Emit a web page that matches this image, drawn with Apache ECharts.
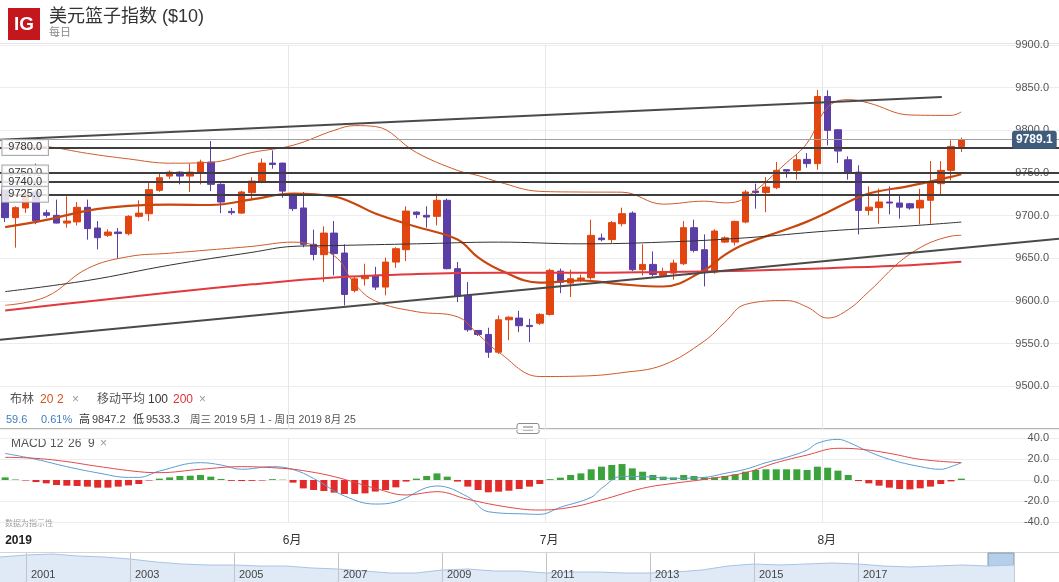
<!DOCTYPE html>
<html><head><meta charset="utf-8">
<script src="https://cdn.jsdelivr.net/npm/echarts@6/dist/echarts.min.js"></script>
<style>html,body{margin:0;padding:0;background:#fff}#c{width:1059px;height:582px}</style>
</head><body><div id="c"></div>
<script>
// ---------- categories (trading days, Sun-Fri) ----------
const dates = ['04-30',
'05-01','05-02','05-03','05-05','05-06','05-07','05-08','05-09','05-10','05-12','05-13','05-14','05-15','05-16','05-17','05-19','05-20','05-21','05-22','05-23','05-24','05-26','05-27','05-28','05-29','05-30','05-31',
'06-02','06-03','06-04','06-05','06-06','06-07','06-09','06-10','06-11','06-12','06-13','06-14','06-16','06-17','06-18','06-19','06-20','06-21','06-23','06-24','06-25','06-26','06-27','06-28','06-30',
'07-01','07-02','07-03','07-04','07-05','07-07','07-08','07-09','07-10','07-11','07-12','07-14','07-15','07-16','07-17','07-18','07-19','07-21','07-22','07-23','07-24','07-25','07-26','07-28','07-29','07-30','07-31',
'08-01','08-02','08-04','08-05','08-06','08-07','08-08','08-09','08-11','08-12','08-13','08-14','08-15','08-16',
'08-18','08-19','08-20','08-21','08-22','08-23','08-25','08-26','08-27'];
const monthNames = {'06':'6月','07':'7月','08':'8月'};

// ---------- candles: [open, close, low, high] ----------
const candles = [
[9729.7,9697.7,9692.5,9735],[9697.7,9709.4,9662.5,9711],[9709,9722,9703,9728],[9728,9694,9690,9761],
[9703.4,9700.4,9697.6,9707],[9700.4,9691.3,9691,9718.8],[9691.3,9693.7,9686,9722.6],[9692.7,9709.8,9688.6,9716],
[9709.8,9684.8,9671.9,9718.8],[9685.5,9674.2,9660.5,9693.7],[9677,9680.8,9675,9684],[9680.8,9679,9649.6,9685.5],
[9678.9,9699.2,9677,9700.5],[9699.2,9703,9697.7,9718],[9702.3,9730.5,9693.7,9738.2],[9729.7,9744.5,9728,9751],
[9746.4,9751,9743,9753],[9751,9746.4,9736.7,9752],[9746.4,9751,9727.7,9761],[9749.9,9762.8,9736.7,9765.6],
[9762.8,9736.7,9728.8,9787.5],[9736.7,9716,9703,9738],[9705,9703.5,9701,9709],[9703,9727.7,9702,9729],
[9727,9740.5,9718,9745],[9740,9761.6,9738,9766.8],[9761.6,9760,9755,9776.5],[9761.6,9728.8,9721,9762],
[9725,9708.2,9705.4,9726],[9709,9666.4,9663,9727.7],[9666.4,9654.6,9647.6,9683.6],[9654.3,9679.6,9622.2,9687.5],
[9679.6,9655.5,9630,9693.7],[9656.2,9607.7,9594.8,9666.4],[9612.4,9626,9610,9628],[9626.1,9630,9618,9643.7],
[9630,9616.3,9613,9640],[9616.3,9645.6,9606.6,9650.8],[9645.6,9661.3,9639,9663],[9660.1,9705.4,9646.8,9710.9],
[9704.2,9701.5,9697,9705],[9700.4,9698.4,9686,9711],[9699.2,9718,9688.6,9725.8],[9718,9637.9,9637,9720],
[9637.9,9605.4,9598.7,9645.6],[9606.6,9566.3,9564,9622.2],[9565.5,9560.8,9559,9566],[9560.8,9540,9533.3,9568.7],
[9540,9578,9538,9583],[9578,9581,9554,9582],[9580,9571,9563.5,9588.5],[9571.4,9570,9551.8,9579],
[9574,9584.3,9572,9585.7],[9584.3,9635.9,9583,9637.9],[9635,9622,9609.3,9638],[9621,9626.1,9604.6,9636.7],
[9625.3,9626.9,9622,9631],[9627.3,9676.9,9625,9695.3],[9673.7,9671.9,9670,9679],[9672,9691.8,9668,9693.7],
[9690.6,9702.3,9687.5,9709.4],[9703,9636.7,9635,9705],[9636.7,9642.9,9630,9666.4],[9642.9,9631.2,9628.7,9658.1],
[9630,9633.9,9629,9639],[9632.7,9644.4,9625,9648.4],[9643.7,9685.9,9642,9693.7],[9685.9,9659.3,9657,9695.3],
[9660.1,9633.9,9617.1,9678.1],[9633.9,9682,9632,9684],[9669,9674,9668,9675.7],[9669,9693.3,9665.2,9694],
[9692.5,9727.7,9691,9730],[9728.8,9727,9708.2,9737.5],[9727,9733.5,9704,9745.2],[9732.8,9753.1,9731,9762.8],
[9753.9,9752.3,9744.5,9754],[9753.1,9765.6,9742.2,9771.9],[9766,9761,9756.3,9773.4],[9761,9839.7,9753.9,9847.2],
[9839.7,9800,9782.4,9846.9],[9800.7,9775.7,9761.7,9801],[9765.5,9750,9742.2,9769.5],[9751,9706.2,9678,9759],
[9706.2,9710,9700.4,9734.3],[9709.4,9716,9690.6,9731.6],[9716,9714.8,9701.5,9734.3],[9714.8,9710,9696.5,9723.8],
[9714,9709,9707,9715],[9709,9718,9689.8,9731.6],[9718,9738.2,9690.6,9764],[9737.5,9753.1,9725,9764],
[9753.1,9781.2,9741.4,9788.3],[9781.2,9789.1,9774.6,9791.5]];

// ---------- Bollinger (20,2) read at sample candles ----------
const bandIdx = [0,4,8,12,16,20,24,28,32,34,36,40,44,46,48,52,56,60,64,68,70,72,76,78,80,82,84,88,92,93];
const bbUpper = [9783.5,9781,9773,9766.5,9761.5,9762.5,9774,9782.5,9800,9805.5,9804.5,9774,9753,9747,9739.5,9728.5,9727.7,9727.5,9713.5,9717,9715,9721,9762,9785,9827,9836,9832,9818,9817.5,9821.5];
const bbMid   = [9686.5,9695,9706,9711.5,9713,9712.5,9719,9726,9722.5,9714,9702.5,9687,9672,9651,9637,9621.5,9624,9619.5,9617,9636,9654,9667,9684,9693,9704,9716,9726,9735,9745.5,9748.5];
const bbLower = [9595,9605,9638,9652,9656,9660,9664,9669,9653,9620,9600,9587.5,9581.5,9561,9540,9511.5,9512,9516,9525,9553,9575,9596,9600.5,9593,9580,9590,9611,9655,9676,9677];

// ---------- moving averages ----------
const ma100Idx = [0,8,16,24,28,32,40,48,56,64,72,80,88,93];
const ma100Val = [9611,9624,9642,9657,9664,9665,9667,9669,9667,9669,9674,9682,9688,9692.5];
const ma200Idx = [0,8,16,24,32,40,48,56,64,72,80,88,93];
const ma200Val = [9589,9599.5,9610,9619.5,9627.5,9631.5,9633,9633,9634,9635.5,9638.5,9642,9646];

// ---------- trend lines [position, price] and levels ----------
const trendUpper = [[-0.5,9789.1],[91.1,9839]];
const trendLower = [[-0.5,9554.6],[102.5,9673]];
const levels = [9780, 9750, 9740, 9725];
const lastPrice = 9789.1;

// ---------- MACD (12,26,9) ----------
const macdHist = [2.5,0.5,-0.5,-2,-3.2,-4.8,-5.4,-5.7,-6.3,-7.3,-7.3,-6.3,-5.1,-3.8,-0.5,1.3,2.5,3.8,4.1,4.8,3.2,1,-0.8,-1,-0.8,-0.5,0.8,0.3,
-2.5,-8,-9.5,-10.5,-12,-13.3,-13.3,-12.7,-11,-9.5,-7,-1.5,1.3,3.8,6.3,3.2,-1.5,-6.3,-9.5,-11.7,-11.1,-10.2,-8.6,-6.3,-3.8,
0.8,2.2,4.8,6.3,10.2,12.7,14.3,15.2,11.1,7.9,4.8,3.2,2.5,4.8,3.8,2.5,2.5,3.8,5.4,7.9,9.5,10.2,10.2,10.2,10.2,9.5,12.7,11.7,8.9,4.8,
-1,-3.2,-5.4,-7.3,-8.6,-8.9,-7.9,-6.3,-3.8,-1.3,1.3];
const macdIdx = [0,3,6,9,12,13,15,19,21,23,26,28,30,33,36,38,42,45,47,51,52,54,57,58,60,62,65,68,70,72,74,76,78,79,81,82,84,86,89,91,92,93];
const macdVal = [25.3,19.7,12.7,6.8,2.5,2.5,8.5,16.5,14.3,10.2,12.7,10,1.5,-15.2,-22.9,-20.8,-5.7,-16,-30.2,-32.5,-32.7,-26,-16.5,-8,3.5,3.2,1.6,2.5,6.3,10.2,16.5,21.6,28.5,35,38.7,36,27,19.7,12.7,10.2,12.7,16.5];
const sigIdx = [0,3,6,9,13,15,19,23,27,29,32,36,39,42,45,49,52,55,58,62,65,68,72,75,78,81,83,86,89,93];
const sigVal = [21.6,20.6,17.5,13,7.9,7,10.2,12.7,11.1,8.9,3.2,-7.9,-14.3,-11.1,-18.4,-26,-28.6,-26,-19,-7.9,-3.2,0.6,7,16.5,23.8,30.2,29.5,25.4,19.7,16.5];

// ---------- navigator (long history, half-yearly) ----------
const navDates = ['2000-07','2001-01','2001-07','2002-01','2002-07','2003-01','2003-07','2004-01','2004-07','2005-01','2005-07','2006-01','2006-07','2007-01','2007-07','2008-01','2008-07','2009-01','2009-07','2010-01','2010-07','2011-01','2011-07','2012-01','2012-07','2013-01','2013-07','2014-01','2014-07','2015-01','2015-07','2016-01','2016-07','2017-01','2017-07','2018-01','2018-07','2019-01','2019-07','2020-01'];
const navValues = [10660,10900,11020,10780,10660,10420,10060,9820,9700,9700,9580,9580,9340,9220,8980,8740,8740,9100,9220,8980,8980,8740,8860,8860,8740,8740,8860,9100,9580,9820,9700,9820,9940,9820,9580,9460,9580,9700,9580,9700];

// ---------- chart ----------
const FONT = 'Arial, "Liberation Sans", "Noto Sans CJK SC", sans-serif';
const UP = '#e2450f', DOWN = '#5b3fa7', GREEN = '#3ca23c', RED = '#e22a2a';
const pairs = (idx, vals) => idx.map((x, k) => [x, vals[k]]);
const bandDiff = bandIdx.map((x, k) => [x, bbUpper[k] - bbLower[k]]);
const N = dates.length;

function monthLabel(i) {
  if (i === 0) return '{y|2019}';
  if (i + 1 < N && dates[i + 1].slice(0, 2) !== dates[i].slice(0, 2)) return monthNames[dates[i + 1].slice(0, 2)] || '';
  return '';
}
function monthStart(i) {
  return i > 1 && dates[i].slice(0, 2) !== dates[i - 1].slice(0, 2);
}
const navYear = (v) => /-01$/.test(v) && (+v.slice(0, 4)) % 2 === 1 && +v.slice(0, 4) < 2019;
const splitCat = { show: true, interval: (i) => monthStart(i), lineStyle: { color: '#e6e6e6', width: 1 } };

const chart = echarts.init(document.getElementById('c'), null, { renderer: 'canvas' });

const levelLabel = {
  position: 'start', distance: -48, color: '#333', fontSize: 11, fontFamily: FONT,
  backgroundColor: 'rgba(255,255,255,0.82)', borderColor: '#aaa', borderWidth: 1, padding: [2, 6],
  formatter: (p) => Number(p.value).toFixed(1)
};

const txt = (x, y, text, fill, size, extra) => Object.assign({
  type: 'text', x: x, y: y, silent: true,
  style: Object.assign({ text: text, fill: fill, fontSize: size, fontFamily: FONT, verticalAlign: 'middle', align: 'left' }, extra || {})
});

chart.setOption({
  animation: false,
  textStyle: { fontFamily: FONT },
  grid: [
    { left: 0, right: 0, top: 45, height: 384, outerBoundsMode: 'none' },
    { left: 0, right: 0, top: 438, height: 84, outerBoundsMode: 'none' },
    { left: 0, right: 45, top: 553, height: 29, outerBoundsMode: 'none' }
  ],
  xAxis: [
    { type: 'category', gridIndex: 0, data: dates, boundaryGap: true,
      axisLine: { show: false }, axisTick: { show: false }, axisLabel: { show: false }, splitLine: splitCat },
    { type: 'category', gridIndex: 1, data: dates, boundaryGap: true,
      axisLine: { show: false }, axisTick: { show: false }, splitLine: splitCat,
      axisLabel: { show: true, interval: (i) => monthLabel(i) !== '', formatter: (v, i) => monthLabel(i),
        align: 'left', margin: 13, color: '#333', fontSize: 12, fontFamily: FONT,
        rich: { y: { fontWeight: 'bold', color: '#222', fontSize: 12, fontFamily: FONT } } } },
    { type: 'value', gridIndex: 0, min: -0.5, max: N - 0.5, show: false },
    { type: 'value', gridIndex: 1, min: -0.5, max: N - 0.5, show: false },
    { type: 'category', gridIndex: 2, data: navDates, boundaryGap: false, z: 6,
      axisLine: { show: false }, axisTick: { show: false },
      splitLine: { show: true, interval: (i, v) => navYear(v), lineStyle: { color: '#c4c4c4' } },
      axisLabel: { show: true, inside: true, margin: 2, align: 'left', padding: [0, 0, 0, 5],
        interval: (i, v) => navYear(v),
        formatter: (v) => v.slice(0, 4), color: '#444', fontSize: 11, fontFamily: FONT } }
  ],
  yAxis: [
    { type: 'value', gridIndex: 0, position: 'right', min: 9450, max: 9900, interval: 50,
      axisLine: { show: false }, axisTick: { show: false },
      axisLabel: { inside: true, margin: 10, showMinLabel: false, color: '#555', fontSize: 11, fontFamily: FONT,
        formatter: (v) => v.toFixed(1) },
      splitLine: { lineStyle: { color: '#ededed' } } },
    { type: 'value', gridIndex: 1, position: 'right', min: -40, max: 40, interval: 20,
      axisLine: { show: false }, axisTick: { show: false },
      axisLabel: { inside: true, margin: 10, color: '#555', fontSize: 11, fontFamily: FONT,
        formatter: (v) => v.toFixed(1) },
      splitLine: { lineStyle: { color: '#ededed' } } },
    { type: 'value', gridIndex: 2, min: 7660, max: 11140, show: false }
  ],
  series: [
    { type: 'line', xAxisIndex: 2, yAxisIndex: 0, data: pairs(bandIdx, bbLower), stack: 'bb', smooth: 0.4,
      symbol: 'none', lineStyle: { opacity: 0 }, silent: true, z: 1 },
    { type: 'line', xAxisIndex: 2, yAxisIndex: 0, data: bandDiff, stack: 'bb', smooth: 0.4,
      symbol: 'none', lineStyle: { opacity: 0 }, areaStyle: { color: 'rgba(0,0,0,0.035)' }, silent: true, z: 1 },
    { type: 'candlestick', xAxisIndex: 0, yAxisIndex: 0, data: candles, barWidth: 7, z: 2,
      itemStyle: { color: UP, color0: DOWN, borderColor: UP, borderColor0: DOWN, borderWidth: 1 } },
    { type: 'line', xAxisIndex: 2, yAxisIndex: 0, data: pairs(bandIdx, bbUpper), smooth: 0.4, symbol: 'none',
      lineStyle: { color: '#cf5a28', width: 1 }, z: 3 },
    { type: 'line', xAxisIndex: 2, yAxisIndex: 0, data: pairs(bandIdx, bbLower), smooth: 0.4, symbol: 'none',
      lineStyle: { color: '#cf5a28', width: 1 }, z: 3 },
    { type: 'line', xAxisIndex: 2, yAxisIndex: 0, data: pairs(bandIdx, bbMid), smooth: 0.4, symbol: 'none',
      lineStyle: { color: '#c9470e', width: 2.2 }, z: 3 },
    { type: 'line', xAxisIndex: 2, yAxisIndex: 0, data: pairs(ma100Idx, ma100Val), smooth: 0.4, symbol: 'none',
      lineStyle: { color: '#333', width: 1 }, z: 3 },
    { type: 'line', xAxisIndex: 2, yAxisIndex: 0, data: pairs(ma200Idx, ma200Val), smooth: 0.4, symbol: 'none',
      lineStyle: { color: '#e0393e', width: 2 }, z: 3 },
    { type: 'line', xAxisIndex: 2, yAxisIndex: 0, data: trendUpper, symbol: 'none',
      lineStyle: { color: '#4a4a4a', width: 2 }, z: 4 },
    { type: 'line', xAxisIndex: 2, yAxisIndex: 0, data: trendLower, symbol: 'none',
      lineStyle: { color: '#4a4a4a', width: 2 }, z: 4,
      markLine: { silent: true, symbol: ['none', 'none'], animation: false,
        data: levels.map(v => ({ yAxis: v, lineStyle: { color: '#3e3e3e', width: 2, type: 'solid' }, label: levelLabel }))
          .concat([{ yAxis: lastPrice, lineStyle: { color: '#a0a0a0', width: 1, type: 'solid' },
            label: { position: 'end', distance: -47, formatter: (p) => Number(p.value).toFixed(1),
              backgroundColor: '#3f5c7d', color: '#fff', fontWeight: 'bold', fontSize: 12, fontFamily: FONT,
              padding: [3, 4], borderRadius: 3 } }]) } },
    { type: 'bar', xAxisIndex: 1, yAxisIndex: 1, data: macdHist, barWidth: 7,
      itemStyle: { color: (p) => p.value >= 0 ? GREEN : RED } },
    { type: 'line', xAxisIndex: 3, yAxisIndex: 1, data: pairs(macdIdx, macdVal), smooth: 0.4, symbol: 'none',
      lineStyle: { color: '#5b9bd5', width: 1 }, z: 3 },
    { type: 'line', xAxisIndex: 3, yAxisIndex: 1, data: pairs(sigIdx, sigVal), smooth: 0.4, symbol: 'none',
      lineStyle: { color: '#e04848', width: 1 }, z: 3 },
    { type: 'line', xAxisIndex: 4, yAxisIndex: 2, data: navValues, symbol: 'none', z: 1,
      lineStyle: { color: '#a9c4e2', width: 1 }, areaStyle: { color: '#e0eaf6', opacity: 1 },
      markArea: { silent: true, itemStyle: { color: 'rgba(120,165,215,0.55)', borderColor: '#8796a8', borderWidth: 1 },
        data: [[{ xAxis: '2019-07' }, { xAxis: '2020-01' }]] } }
  ],
  graphic: [
    { type: 'rect', shape: { x: 8, y: 8, width: 32, height: 32 }, style: { fill: '#c3161d' }, silent: true },
    txt(24, 25, 'IG', '#fff', 19, { fontWeight: 'bold', align: 'center' }),
    txt(49, 17, '美元篮子指数 ($10)', '#333', 18),
    txt(49, 33, '每日', '#888', 11),
    { type: 'line', shape: { x1: 0, y1: 43.5, x2: 1059, y2: 43.5 }, style: { stroke: '#e6e6e6', lineWidth: 1 }, silent: true },
    txt(10, 400, '布林', '#555', 12), txt(40, 400, '20', '#d4531c', 12), txt(57, 400, '2', '#d4531c', 12),
    txt(72, 400, '×', '#999', 12),
    txt(97, 400, '移动平均', '#555', 12), txt(148, 400, '100', '#333', 12), txt(173, 400, '200', '#e0303a', 12),
    txt(199, 400, '×', '#999', 12),
    txt(6, 420, '59.6', '#3d7fc1', 11), txt(41, 420, '0.61%', '#3d7fc1', 11),
    txt(79, 420, '高', '#333', 11), txt(92, 420, '9847.2', '#444', 11),
    txt(133, 420, '低', '#333', 11), txt(146, 420, '9533.3', '#444', 11),
    txt(190, 420, '周三 2019 5月 1 - 周日 2019 8月 25', '#555', 10.5),
    { type: 'line', shape: { x1: 0, y1: 428.5, x2: 1059, y2: 428.5 }, style: { stroke: '#b5b5b5', lineWidth: 1 }, silent: true },
    { type: 'rect', shape: { x: 517, y: 423.5, width: 22, height: 10, r: 2 }, style: { fill: '#fff', stroke: '#8a8a8a', lineWidth: 1 }, silent: true },
    { type: 'line', shape: { x1: 523, y1: 427, x2: 533, y2: 427 }, style: { stroke: '#777', lineWidth: 1 }, silent: true },
    { type: 'line', shape: { x1: 523, y1: 430, x2: 533, y2: 430 }, style: { stroke: '#777', lineWidth: 1 }, silent: true },
    txt(11, 444, 'MACD', '#555', 12), txt(50, 444, '12', '#555', 12), txt(68, 444, '26', '#555', 12),
    txt(88, 444, '9', '#555', 12), txt(100, 444, '×', '#999', 12),
    txt(5, 524, '数据为指示性', '#999', 8),
    { type: 'line', shape: { x1: 0, y1: 552.5, x2: 1059, y2: 552.5 }, style: { stroke: '#d5d5d5', lineWidth: 1 }, silent: true }
  ]
});
</script>
</body></html>
